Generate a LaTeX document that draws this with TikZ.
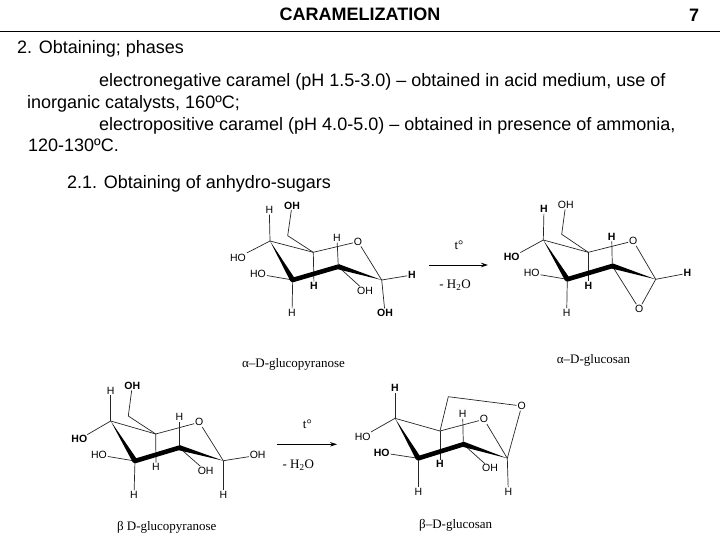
\documentclass[tikz,border=0pt]{standalone}
\usepackage{fontspec}
\setmainfont{Liberation Sans}
\newfontfamily\serifcap{Liberation Serif}
\usetikzlibrary{calc,arrows.meta}
\tikzset{
  atom/.style={font=\fontsize{10.5}{12}\selectfont,inner sep=0.8pt},
  boldatom/.style={atom,font=\fontsize{10.5}{12}\selectfont\bfseries},
  bondline/.style={line width=0.7pt,black!85},
  para/.style={anchor=base west,font=\fontsize{18}{20}\selectfont,inner sep=0},
  headtxt/.style={anchor=base,font=\fontsize{18}{20}\selectfont\bfseries,inner sep=0},
  capt/.style={font=\fontsize{13}{15}\selectfont\serifcap,inner sep=0},
  cond/.style={font=\fontsize{13}{15}\selectfont\serifcap,inner sep=0},
  rxn/.style={line width=0.8pt,-{Stealth[length=7pt,width=4.5pt]}},
}
\newcommand{\wedgebond}[2]{\fill[black] (#1) -- ($(#2)!2.6pt!90:(#1)$) -- ($(#2)!2.6pt!-90:(#1)$) -- cycle;}
\newcommand{\thickbond}[2]{\draw[line width=4.6pt,line cap=round] (#1) -- (#2);}
\begin{document}
\begin{tikzpicture}[x=1pt,y=-1pt]
\useasboundingbox (0,0) rectangle (720,540);
\fill[white] (0,0) rectangle (720,540);
% header
\node[headtxt] (title) at (360,20.7) {CARAMELIZATION};
\node[headtxt] (pageno) at (694,22) {7};
\coordinate (ruleL) at (0,31.5); \coordinate (ruleR) at (720,31.5);
\draw[line width=0.8pt] (ruleL) -- (ruleR);
% text
\node[para] (t1) at (17,53.5) {2. Obtaining; phases};
\node[para] (t2) at (99,87) {electronegative caramel (pH 1.5-3.0) – obtained in acid medium, use of};
\node[para] (t3) at (27,109) {inorganic catalysts, 160ºC;};
\node[para] (t4) at (99,130.5) {electropositive caramel (pH 4.0-5.0) – obtained in presence of ammonia,};
\node[para] (t5) at (28,152) {120-130ºC.};
\node[para] (t6) at (67,189) {2.1. Obtaining of anhydro-sugars};

% molecule A
\coordinate (a4) at (270,241); \coordinate (a3) at (292.7,280); \coordinate (a2) at (338.3,266.7);
\coordinate (a1) at (381.7,280); \coordinate (a5) at (313.3,252.3); \coordinate (a6) at (287.7,235.7);
\node[atom] (aO) at (358,241.7) {O};
\node[boldatom] (aOH6) at (292,205.5) {OH};
\node[atom] (aH4) at (269.3,210) {H};
\node[atom] (aHO4) at (238,257.5) {HO};
\node[atom] (aHO3) at (258,274) {HO};
\node[atom] (aH2) at (337,238) {H};
\node[boldatom] (aH5) at (314,286) {H};
\node[atom] (aOH2) at (365,291) {OH};
\node[boldatom] (aH1) at (412,275) {H};
\node[atom] (aH3) at (292,313) {H};
\node[boldatom] (aOH1) at (385,313) {OH};
\draw[bondline] (a4) -- (a5) -- (aO) -- (a1);
\draw[bondline] (a5) -- (a6) -- (aOH6);
\draw[bondline] (a4) -- (aH4); \draw[bondline] (a4) -- (aHO4); \draw[bondline] (a3) -- (aHO3);
\draw[bondline] (a3) -- (aH3); \draw[bondline] (a5) -- (aH5); \draw[bondline] (a2) -- (aH2);
\draw[bondline] (a2) -- (aOH2); \draw[bondline] (a1) -- (aH1); \draw[bondline] (a1) -- (aOH1);
\wedgebond{a4}{a3}\thickbond{a3}{a2}\wedgebond{a1}{a2}
\node[capt] (acap) at (293.5,364) {α–D-glucopyranose};

% arrow 1
\coordinate (r1s) at (429,265); \coordinate (r1e) at (488,265);
\draw[rxn] (r1s) -- (r1e);
\node[cond] (r1t) at (459,245) {t°};
\node[cond] (r1w) at (455,285) {- H\textsubscript{2}O};

% molecule B
\coordinate (b4) at (543.3,240); \coordinate (b3) at (567.3,279.3); \coordinate (b2) at (612.3,266);
\coordinate (b1) at (655.7,279.3); \coordinate (b5) at (588.3,252.3); \coordinate (b6) at (561.7,234.3);
\node[atom] (bO) at (633.3,241) {O};
\node[atom] (bOH6) at (565.7,204.7) {OH};
\node[boldatom] (bH4) at (544,209.3) {H};
\node[boldatom] (bHO4) at (511.7,257.3) {HO};
\node[atom] (bHO3) at (531.7,273.3) {HO};
\node[boldatom] (bH2) at (611.7,236.7) {H};
\node[boldatom] (bH5) at (588.3,285.7) {H};
\node[boldatom] (bH1) at (687.3,273.3) {H};
\node[atom] (bH3) at (566.7,312.7) {H};
\node[atom] (bO2) at (639.3,309) {O};
\draw[bondline] (b4) -- (b5) -- (bO) -- (b1);
\draw[bondline] (b5) -- (b6) -- (bOH6);
\draw[bondline] (b4) -- (bH4); \draw[bondline] (b4) -- (bHO4); \draw[bondline] (b3) -- (bHO3);
\draw[bondline] (b3) -- (bH3); \draw[bondline] (b5) -- (bH5); \draw[bondline] (b2) -- (bH2);
\draw[bondline] (b2) -- (bO2) -- (b1); \draw[bondline] (b1) -- (bH1);
\wedgebond{b4}{b3}\thickbond{b3}{b2}\wedgebond{b1}{b2}
\node[capt] (bcap) at (593.5,360) {α–D-glucosan};

% molecule C
\coordinate (c4) at (110.7,421); \coordinate (c3) at (135,461); \coordinate (c2) at (179.3,447.7);
\coordinate (c1) at (223.3,460.7); \coordinate (c5) at (155.7,434); \coordinate (c6) at (128.3,416);
\node[atom] (cO) at (199.3,422.3) {O};
\node[boldatom] (cOH6) at (132.3,385.7) {OH};
\node[atom] (cH4) at (110.7,390.7) {H};
\node[boldatom] (cHO4) at (79.3,439.3) {HO};
\node[atom] (cHO3) at (99,455) {HO};
\node[atom] (cH2) at (179.3,417.3) {H};
\node[atom] (cH5) at (156,467.3) {H};
\node[atom] (cOH2) at (205.7,471) {OH};
\node[atom] (cOH1) at (257.7,455.3) {OH};
\node[atom] (cH3) at (134,495) {H};
\node[atom] (cH1) at (223.3,495) {H};
\draw[bondline] (c4) -- (c5) -- (cO) -- (c1);
\draw[bondline] (c5) -- (c6) -- (cOH6);
\draw[bondline] (c4) -- (cH4); \draw[bondline] (c4) -- (cHO4); \draw[bondline] (c3) -- (cHO3);
\draw[bondline] (c3) -- (cH3); \draw[bondline] (c5) -- (cH5); \draw[bondline] (c2) -- (cH2);
\draw[bondline] (c2) -- (cOH2); \draw[bondline] (c1) -- (cOH1); \draw[bondline] (c1) -- (cH1);
\wedgebond{c4}{c3}\thickbond{c3}{c2}\wedgebond{c1}{c2}
\node[capt] (ccap) at (166.7,527.5) {β D-glucopyranose};

% arrow 2
\coordinate (r2s) at (277.3,444.3); \coordinate (r2e) at (337,444.3);
\draw[rxn] (r2s) -- (r2e);
\node[cond] (r2t) at (307.3,424.3) {t°};
\node[cond] (r2w) at (298.3,465) {- H\textsubscript{2}O};

% molecule D
\coordinate (d4) at (395,418.3); \coordinate (d3) at (418.3,458.3); \coordinate (d2) at (463.3,444.3);
\coordinate (d1) at (507.3,458.3); \coordinate (d5) at (440,431); \coordinate (d6) at (448.3,396.7);
\node[atom] (dO) at (484,419.3) {O};
\node[atom] (dO2) at (521.7,406) {O};
\node[boldatom] (dH4) at (395,388.3) {H};
\node[atom] (dHO4) at (362.7,436.7) {HO};
\node[boldatom] (dHO3) at (381.7,452.7) {HO};
\node[atom] (dH2) at (462.7,414.3) {H};
\node[boldatom] (dH5) at (440,464.3) {H};
\node[atom] (dOH2) at (490,468.3) {OH};
\node[atom] (dH3) at (418.3,491.7) {H};
\node[atom] (dH1) at (508.3,491.7) {H};
\draw[bondline] (d4) -- (d5) -- (dO) -- (d1);
\draw[bondline] (d5) -- (d6) -- (dO2) -- (d1);
\draw[bondline] (d4) -- (dH4); \draw[bondline] (d4) -- (dHO4); \draw[bondline] (d3) -- (dHO3);
\draw[bondline] (d3) -- (dH3); \draw[bondline] (d5) -- (dH5); \draw[bondline] (d2) -- (dH2);
\draw[bondline] (d2) -- (dOH2); \draw[bondline] (d1) -- (dH1);
\wedgebond{d4}{d3}\thickbond{d3}{d2}\wedgebond{d1}{d2}
\node[capt] (dcap) at (455.7,525) {β–D-glucosan};
\end{tikzpicture}
\end{document}
